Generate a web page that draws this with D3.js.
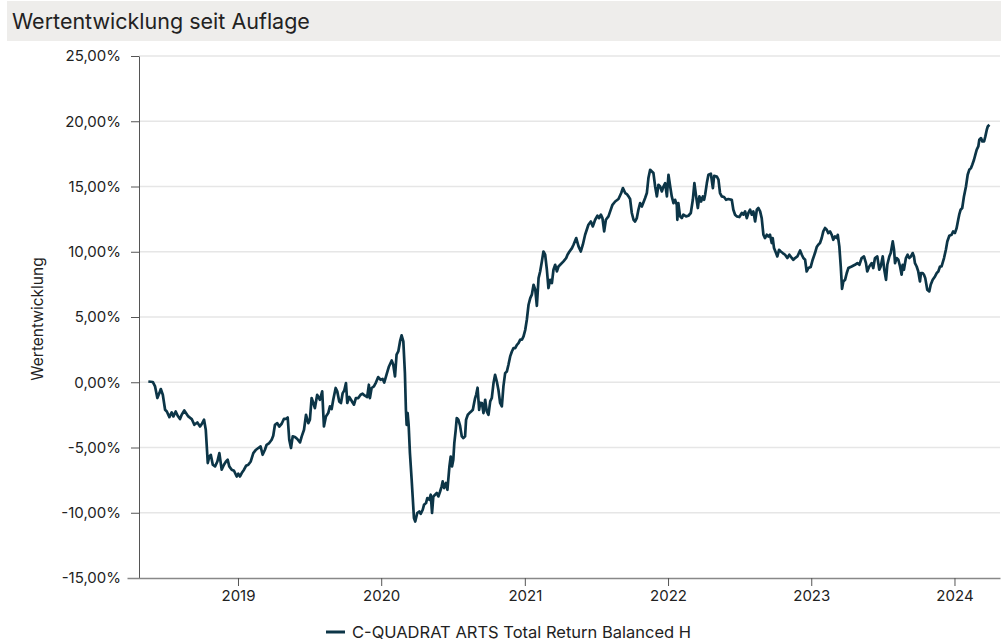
<!DOCTYPE html>
<html lang="de">
<head>
<meta charset="UTF-8">
<title>Wertentwicklung seit Auflage</title>
<script src="https://d3js.org/d3.v7.min.js"></script>
<style>
    body { margin: 0; background: #fff; font-family: Inter, "Noto Sans", sans-serif; }
    svg text { fill: #222; }
</style>
</head>
<body>
<svg id="chart" width="1001" height="641"></svg>
<script>
// Fund performance since launch, in percent; dates as decimal years
const dateYears = [
    2018.374,2018.405,2018.421,2018.437,2018.451,2018.461,2018.475,2018.491,2018.503,2018.521,
    2018.537,2018.549,2018.565,2018.579,2018.595,2018.607,2018.625,2018.653,2018.677,2018.695,
    2018.716,2018.735,2018.747,2018.763,2018.775,2018.789,2018.800,2018.810,2018.824,2018.840,
    2018.856,2018.870,2018.886,2018.902,2018.916,2018.928,2018.939,2018.956,2018.972,2018.991,
    2019.002,2019.014,2019.026,2019.042,2019.056,2019.072,2019.089,2019.107,2019.126,2019.142,
    2019.158,2019.172,2019.188,2019.200,2019.218,2019.235,2019.246,2019.258,2019.274,2019.288,
    2019.305,2019.321,2019.335,2019.347,2019.358,2019.370,2019.382,2019.398,2019.414,2019.433,
    2019.445,2019.461,2019.475,2019.491,2019.502,2019.514,2019.526,2019.537,2019.553,2019.572,
    2019.588,2019.600,2019.614,2019.630,2019.642,2019.654,2019.665,2019.682,2019.693,2019.707,
    2019.719,2019.731,2019.742,2019.754,2019.763,2019.777,2019.789,2019.800,2019.810,2019.823,
    2019.840,2019.856,2019.870,2019.886,2019.902,2019.914,2019.921,2019.933,2019.949,2019.963,
    2019.979,2019.996,2020.010,2020.021,2020.038,2020.054,2020.073,2020.084,2020.096,2020.107,
    2020.119,2020.131,2020.142,2020.154,2020.165,2020.172,2020.177,2020.184,2020.191,2020.200,
    2020.212,2020.219,2020.228,2020.237,2020.251,2020.265,2020.275,2020.289,2020.298,2020.312,
    2020.321,2020.335,2020.345,2020.354,2020.363,2020.375,2020.387,2020.398,2020.410,2020.421,
    2020.428,2020.438,2020.451,2020.461,2020.475,2020.484,2020.493,2020.502,2020.509,2020.519,
    2020.526,2020.537,2020.549,2020.561,2020.572,2020.584,2020.591,2020.603,2020.614,2020.626,
    2020.638,2020.647,2020.654,2020.661,2020.671,2020.682,2020.689,2020.701,2020.712,2020.724,
    2020.735,2020.747,2020.759,2020.770,2020.782,2020.793,2020.805,2020.816,2020.828,2020.840,
    2020.851,2020.863,2020.875,2020.886,2020.898,2020.910,2020.921,2020.933,2020.945,2020.956,
    2020.968,2020.980,2020.991,2021.003,2021.014,2021.026,2021.038,2021.049,2021.061,2021.073,
    2021.084,2021.096,2021.107,2021.119,2021.130,2021.142,2021.154,2021.165,2021.177,2021.189,
    2021.200,2021.212,2021.224,2021.235,2021.247,2021.270,2021.289,2021.298,2021.312,2021.329,
    2021.340,2021.359,2021.375,2021.391,2021.405,2021.421,2021.444,2021.461,2021.475,2021.491,
    2021.507,2021.519,2021.531,2021.542,2021.554,2021.566,2021.584,2021.596,2021.612,2021.631,
    2021.654,2021.673,2021.685,2021.701,2021.712,2021.724,2021.735,2021.747,2021.759,2021.770,
    2021.782,2021.793,2021.805,2021.817,2021.828,2021.840,2021.852,2021.863,2021.875,2021.887,
    2021.898,2021.910,2021.922,2021.933,2021.945,2021.957,2021.968,2021.980,2021.992,2022.003,
    2022.015,2022.026,2022.038,2022.049,2022.061,2022.065,2022.072,2022.084,2022.096,2022.107,
    2022.126,2022.142,2022.159,2022.173,2022.184,2022.196,2022.208,2022.219,2022.231,2022.243,
    2022.252,2022.259,2022.271,2022.282,2022.299,2022.313,2022.322,2022.340,2022.352,2022.363,
    2022.375,2022.391,2022.405,2022.421,2022.445,2022.456,2022.468,2022.480,2022.498,2022.515,
    2022.526,2022.538,2022.550,2022.561,2022.573,2022.585,2022.596,2022.608,2022.620,2022.631,
    2022.643,2022.654,2022.666,2022.677,2022.689,2022.701,2022.712,2022.724,2022.731,2022.740,
    2022.754,2022.763,2022.775,2022.787,2022.801,2022.817,2022.833,2022.847,2022.864,2022.875,
    2022.887,2022.903,2022.922,2022.934,2022.945,2022.957,2022.968,2022.980,2022.996,2023.010,
    2023.026,2023.038,2023.049,2023.061,2023.073,2023.084,2023.096,2023.108,2023.119,2023.131,
    2023.143,2023.154,2023.166,2023.178,2023.185,2023.196,2023.206,2023.215,2023.224,2023.236,
    2023.248,2023.259,2023.282,2023.305,2023.322,2023.336,2023.352,2023.368,2023.382,2023.391,
    2023.405,2023.422,2023.433,2023.445,2023.461,2023.475,2023.485,2023.499,2023.510,2023.522,
    2023.531,2023.545,2023.555,2023.569,2023.578,2023.585,2023.596,2023.608,2023.620,2023.631,
    2023.638,2023.647,2023.661,2023.673,2023.684,2023.696,2023.708,2023.717,2023.724,2023.736,
    2023.747,2023.759,2023.766,2023.778,2023.787,2023.796,2023.810,2023.824,2023.834,2023.848,
    2023.864,2023.876,2023.887,2023.899,2023.910,2023.927,2023.940,2023.950,2023.964,2023.980,
    2023.991,2024.003,2024.015,2024.026,2024.033,2024.043,2024.054,2024.066,2024.080,2024.092,
    2024.103,2024.115,2024.124,2024.136,2024.145,2024.155,2024.166,2024.173,2024.185,2024.194,
    2024.206,2024.215,2024.225,2024.232,2024.243
];

const performance = [
    0.06,0.02,-0.32,-1.21,-0.83,-0.52,-0.96,-2.11,-2.24,-2.67,
    -2.31,-2.62,-2.24,-2.57,-2.82,-2.49,-2.16,-2.62,-2.82,-3.26,
    -3.08,-3.39,-3.20,-2.87,-3.64,-6.19,-5.69,-5.56,-6.32,-6.45,
    -6.07,-5.43,-6.70,-6.32,-6.07,-5.94,-6.45,-6.70,-6.78,-7.22,
    -7.01,-7.22,-6.96,-6.70,-6.40,-6.32,-6.07,-5.43,-5.17,-5.04,
    -4.92,-5.56,-5.17,-4.79,-4.66,-4.41,-4.10,-3.26,-3.13,-3.39,
    -3.18,-2.80,-2.80,-2.70,-4.41,-5.04,-4.15,-4.20,-4.35,-4.61,
    -4.15,-3.64,-2.49,-3.13,-2.87,-1.21,-1.59,-1.98,-0.96,-1.34,
    -0.70,-3.39,-2.62,-2.36,-1.85,-2.05,-1.34,-0.44,-0.70,-1.47,
    -1.59,-0.83,-0.63,-0.06,-1.59,-1.13,-1.34,-1.55,-1.72,-1.21,
    -1.21,-0.96,-0.88,-1.03,-1.13,-0.19,-1.21,-0.44,-0.32,-0.02,
    0.40,0.19,0.25,-0.02,0.63,1.21,1.67,1.34,0.44,2.11,
    2.36,3.13,3.59,3.13,0.70,-2.11,-3.26,-2.36,-3.26,-5.43,
    -7.47,-8.75,-10.41,-10.67,-10.02,-9.90,-10.08,-9.77,-9.39,-9.26,
    -8.87,-9.00,-8.62,-10.02,-8.75,-8.62,-8.49,-8.75,-8.37,-7.98,
    -7.60,-8.11,-7.72,-8.24,-6.45,-5.69,-6.45,-5.94,-4.66,-3.64,
    -2.74,-2.87,-3.33,-4.15,-4.28,-4.15,-2.87,-2.49,-2.36,-2.24,
    -2.11,-1.59,-1.21,-0.96,-0.42,-2.11,-1.57,-1.59,-2.36,-1.34,
    -2.24,-2.49,-1.47,-1.21,-0.06,0.57,0.06,-0.57,-1.59,-1.85,
    -0.32,0.70,0.83,1.34,1.98,2.36,2.62,2.62,2.87,3.00,
    3.26,3.26,3.51,4.02,4.79,5.94,6.45,6.71,7.47,7.09,
    5.86,7.98,8.49,9.26,10.02,9.77,8.62,7.22,7.85,7.60,
    8.62,9.00,8.49,8.87,9.00,9.26,9.52,9.77,10.02,10.28,
    10.54,11.05,10.41,10.02,10.54,11.30,12.07,12.32,11.94,12.45,
    12.76,12.58,12.84,12.58,11.56,12.45,12.71,13.09,13.60,13.85,
    14.04,14.50,14.88,14.50,14.42,14.24,14.04,12.97,12.45,12.32,
    12.58,13.22,13.73,13.47,13.78,14.12,14.50,15.65,16.28,16.15,
    16.03,15.00,14.24,15.13,15.00,14.62,15.00,15.26,14.24,15.90,
    15.00,14.24,13.73,13.98,13.60,12.45,13.73,12.71,12.58,12.84,
    12.71,12.76,12.97,13.98,15.26,14.24,13.35,14.24,13.85,14.24,
    13.98,14.37,15.26,15.90,15.98,14.88,15.82,15.77,15.52,14.50,
    14.24,14.19,13.98,14.04,13.98,13.22,12.84,12.71,12.66,12.97,
    12.84,13.09,12.58,12.97,13.22,12.84,13.09,12.32,13.22,13.35,
    13.09,12.58,11.30,11.05,11.30,11.17,11.30,10.67,11.05,10.28,
    9.90,9.64,10.15,10.02,9.90,9.77,9.52,9.77,9.52,9.39,
    9.52,9.64,10.10,9.77,9.52,9.39,8.49,8.75,8.83,9.39,
    9.90,10.36,10.54,10.67,11.05,11.56,11.82,11.69,11.43,11.56,
    11.30,10.92,11.17,11.05,11.30,10.41,8.87,7.16,7.72,7.85,
    8.37,8.75,8.87,9.00,9.13,9.00,9.52,9.64,9.13,8.49,
    8.87,9.13,8.75,9.52,9.64,8.62,8.87,9.64,8.62,7.85,
    9.00,9.64,9.90,10.79,10.15,9.13,9.52,9.39,8.87,8.24,
    9.00,8.62,9.52,9.77,9.52,9.64,9.90,9.64,9.13,8.87,
    8.49,7.72,8.37,8.37,8.24,7.98,7.09,6.96,7.47,7.85,
    8.11,8.37,8.49,8.87,8.87,9.52,10.15,10.79,11.23,11.30,
    11.56,11.43,11.82,12.45,12.84,13.22,13.35,14.24,15.00,15.90,
    16.28,16.41,16.67,17.05,17.43,17.82,18.07,18.58,18.71,18.45,
    18.45,18.84,19.35,19.60,19.73
];

const yTicks = [-15, -10, -5, 0, 5, 10, 15, 20, 25];
const seriesName = "C-QUADRAT ARTS Total Return Balanced H";
const chartTitle = "Wertentwicklung seit Auflage";
const yTitle = "Wertentwicklung";

function yearToDate(y) {
    const yr = Math.floor(y);
    const start = new Date(yr, 0, 1);
    const end = new Date(yr + 1, 0, 1);
    return new Date(+start + (y - yr) * (end - start));
}

const data = dateYears.map((d, i) => ({ date: yearToDate(d), value: performance[i] }));

const svg = d3.select("#chart");
const axisX = 139;   // where the y axis sits

const x = d3.scaleTime()
    .domain([yearToDate(2018.225), yearToDate(2024.317)])
    .range([127, 1000]);

const y = d3.scaleLinear()
    .domain([-15, 25])
    .range([578, 56]);

// Title band
svg.append("rect")
    .attr("x", 7).attr("y", 1)
    .attr("width", 994).attr("height", 40)
    .attr("fill", "#eeedeb");

svg.append("text")
    .attr("x", 12).attr("y", 29)
    .style("font-size", "21.5px")
    .text(chartTitle);

// Grid lines
svg.append("g")
    .selectAll("line")
    .data(yTicks.filter(t => t > -15))
    .join("line")
    .attr("x1", axisX).attr("x2", 1000)
    .attr("y1", d => y(d)).attr("y2", d => y(d))
    .attr("stroke", "#e6e6e6")
    .attr("stroke-width", 1.5);

// Y axis
const yAxis = svg.append("g")
    .attr("transform", `translate(${axisX},0)`)
    .call(d3.axisLeft(y)
        .tickValues(yTicks)
        .tickSize(8)
        .tickSizeOuter(0)
        .tickPadding(10)
        .tickFormat(d => d.toFixed(2).replace(".", ",") + "%"));
yAxis.selectAll("path, line").attr("stroke", "#555");
yAxis.selectAll("text").style("font-size", "15px").style("font-family", "Inter, sans-serif");

// X axis
const xAxis = svg.append("g")
    .attr("transform", `translate(0,${y(-15)})`)
    .call(d3.axisBottom(x)
        .ticks(d3.timeYear.every(1))
        .tickSize(8)
        .tickSizeOuter(0)
        .tickPadding(4)
        .tickFormat(d3.timeFormat("%Y")));
xAxis.select(".domain").attr("stroke", "#888").attr("stroke-width", 1.5);
xAxis.selectAll(".tick line").attr("stroke", "#555");
xAxis.selectAll("text").style("font-size", "15px").style("font-family", "Inter, sans-serif");

svg.append("text")
    .attr("transform", `translate(43,319) rotate(-90)`)
    .attr("text-anchor", "middle")
    .style("font-size", "15.5px")
    .text(yTitle);

// Performance line
const line = d3.line()
    .x(d => x(d.date))
    .y(d => y(d.value));

svg.append("path")
    .datum(data)
    .attr("fill", "none")
    .attr("stroke", "#0c3547")
    .attr("stroke-width", 2.7)
    .attr("stroke-linejoin", "round")
    .attr("d", line);

// Legend
const legend = svg.append("g").attr("transform", "translate(326,632)");
legend.append("line")
    .attr("x1", 0).attr("x2", 19)
    .attr("stroke", "#0c3547")
    .attr("stroke-width", 3);
legend.append("text")
    .attr("x", 26).attr("y", 5.5)
    .style("font-size", "16.5px")
    .text(seriesName);
</script>
</body>
</html>
